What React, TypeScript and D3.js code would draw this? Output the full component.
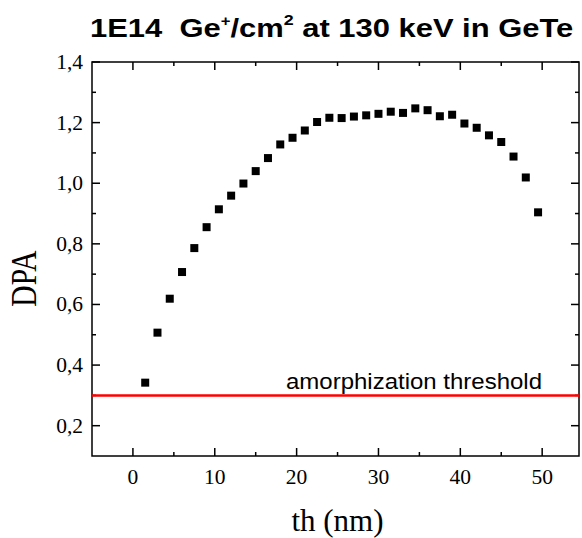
import React from "react";
import * as d3 from "d3";

const thickness = [1.5, 3, 4.5, 6, 7.5, 9, 10.5, 12, 13.5, 15, 16.5, 18, 19.5, 21, 22.5, 24, 25.5, 27, 28.5, 30, 31.5, 33, 34.5, 36, 37.5, 39, 40.5, 42, 43.5, 45, 46.5, 48, 49.5];
const dpa = [0.342, 0.507, 0.619, 0.707, 0.786, 0.855, 0.914, 0.959, 0.999, 1.040, 1.083, 1.128, 1.150, 1.174, 1.202, 1.216, 1.215, 1.220, 1.224, 1.229, 1.236, 1.232, 1.247, 1.241, 1.221, 1.226, 1.197, 1.183, 1.158, 1.136, 1.088, 1.019, 0.904];
const xTicks = [0, 10, 20, 30, 40, 50];
const xMinor = [5, 15, 25, 35, 45];
const yTicks = [0.2, 0.4, 0.6, 0.8, 1.0, 1.2, 1.4];
const yMinor = [0.3, 0.5, 0.7, 0.9, 1.1, 1.3];
const threshold = 0.3;
const thresholdLabel = "amorphization threshold";

const W = 582, H = 538;
const L = 92, R = 579, T = 62, B = 456;

export default function App() {
  const x = d3.scaleLinear().domain([-5, 54.5]).range([L, R]);
  const y = d3.scaleLinear().domain([0.1, 1.4]).range([B, T]);
  const fmt = (v: number) => v.toFixed(1).replace(".", ",");
  const serif = "'Liberation Serif', 'Times New Roman', serif";
  const sans = "'Liberation Sans', Arial, sans-serif";
  const ms = 8;
  return (
    <svg width={W} height={H} style={{ position: "absolute", left: 0, top: 0, background: "#fff" }}>
      <g transform="translate(90,37) scale(1.19,1)">
        <text x={0} y={0} fontFamily={sans} fontWeight="bold" fontSize={26}>
          1E14{"\u00A0\u00A0"}Ge<tspan dy={-11} fontSize={14}>+</tspan><tspan dy={11}>/cm</tspan><tspan dy={-12} fontSize={15}>2</tspan><tspan dy={12}> at 130 keV in GeTe</tspan>
        </text>
      </g>
      {xTicks.map((t) => (
        <g key={"xt" + t}>
          <line x1={x(t)} x2={x(t)} y1={B} y2={B - 8} stroke="#000" strokeWidth={1.5} />
          <line x1={x(t)} x2={x(t)} y1={T} y2={T + 8} stroke="#000" strokeWidth={1.5} />
          <text x={x(t)} y={484} textAnchor="middle" fontFamily={serif} fontSize={21.5}>{t}</text>
        </g>
      ))}
      {xMinor.map((t) => (
        <g key={"xm" + t}>
          <line x1={x(t)} x2={x(t)} y1={B} y2={B - 4} stroke="#000" strokeWidth={1.5} />
          <line x1={x(t)} x2={x(t)} y1={T} y2={T + 4} stroke="#000" strokeWidth={1.5} />
        </g>
      ))}
      {yTicks.map((t) => (
        <g key={"yt" + t}>
          <line x1={L} x2={L + 8} y1={y(t)} y2={y(t)} stroke="#000" strokeWidth={1.5} />
          <line x1={R} x2={R - 8} y1={y(t)} y2={y(t)} stroke="#000" strokeWidth={1.5} />
          <text x={83} y={y(t) + 7} textAnchor="end" fontFamily={serif} fontSize={21.5}>{fmt(t)}</text>
        </g>
      ))}
      {yMinor.map((t) => (
        <g key={"ym" + t}>
          <line x1={L} x2={L + 4} y1={y(t)} y2={y(t)} stroke="#000" strokeWidth={1.5} />
          <line x1={R} x2={R - 4} y1={y(t)} y2={y(t)} stroke="#000" strokeWidth={1.5} />
        </g>
      ))}
      <rect x={L} y={T} width={R - L} height={B - T} fill="none" stroke="#000" strokeWidth={1.5} />
      <line x1={L} x2={R} y1={y(threshold)} y2={y(threshold)} stroke="#ff0000" strokeWidth={2.5} />
      <text x={286} y={389} fontFamily={sans} fontSize={22.5} textLength={256} lengthAdjust="spacingAndGlyphs">{thresholdLabel}</text>
      {thickness.map((t, i) => (
        <rect key={i} x={x(t) - ms / 2} y={y(dpa[i]) - ms / 2} width={ms} height={ms} fill="#000" />
      ))}
      <text x={337.5} y={531} textAnchor="middle" fontFamily={serif} fontSize={31}>th (nm)</text>
      <text transform="translate(36, 278.5) scale(1.19,1) rotate(-90)" textAnchor="middle" fontFamily={serif} fontSize={29.5}>DPA</text>
    </svg>
  );
}
